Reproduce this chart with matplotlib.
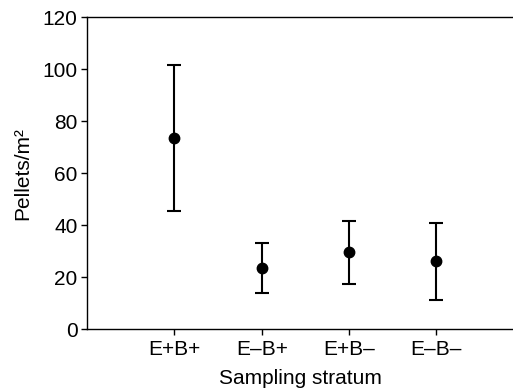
import numpy as np
import matplotlib.pyplot as plt

plt.rcParams['font.family'] = ['Liberation Sans', 'DejaVu Sans']

strata = ['E+B+', 'E–B+', 'E+B–', 'E–B–']
means = [73.6, 23.6, 29.6, 26.0]
upper = [101.5, 33.0, 41.5, 40.9]
lower = [45.5, 14.0, 17.4, 11.2]

x = np.arange(1, len(strata) + 1)
yerr = [np.array(means) - np.array(lower), np.array(upper) - np.array(means)]

fig = plt.figure(figsize=(5.13, 3.89), dpi=100)
ax = fig.add_axes([0.170, 0.154, 0.830, 0.802])

ax.errorbar(x, means, yerr=yerr, fmt='o', color='black', markersize=7.5,
            elinewidth=1.5, capsize=5, capthick=1.5)

ax.set_xlim(0, 4.88)
ax.set_ylim(0, 120)
ax.set_yticks(np.arange(0, 121, 20))
ax.set_xticks(x)
ax.set_xticklabels(strata)
ax.tick_params(axis='both', direction='out', length=4, width=1, labelsize=15, colors='black')
ax.tick_params(axis='y', pad=3)
ax.tick_params(axis='x', pad=4)

ax.spines['right'].set_visible(False)
for s in ['left', 'bottom', 'top']:
    ax.spines[s].set_linewidth(1)

ax.set_ylabel('Pellets/m²', fontsize=15, labelpad=7)
ax.set_xlabel('Sampling stratum', fontsize=15, labelpad=7)

fig.savefig('out.png', dpi=100)
